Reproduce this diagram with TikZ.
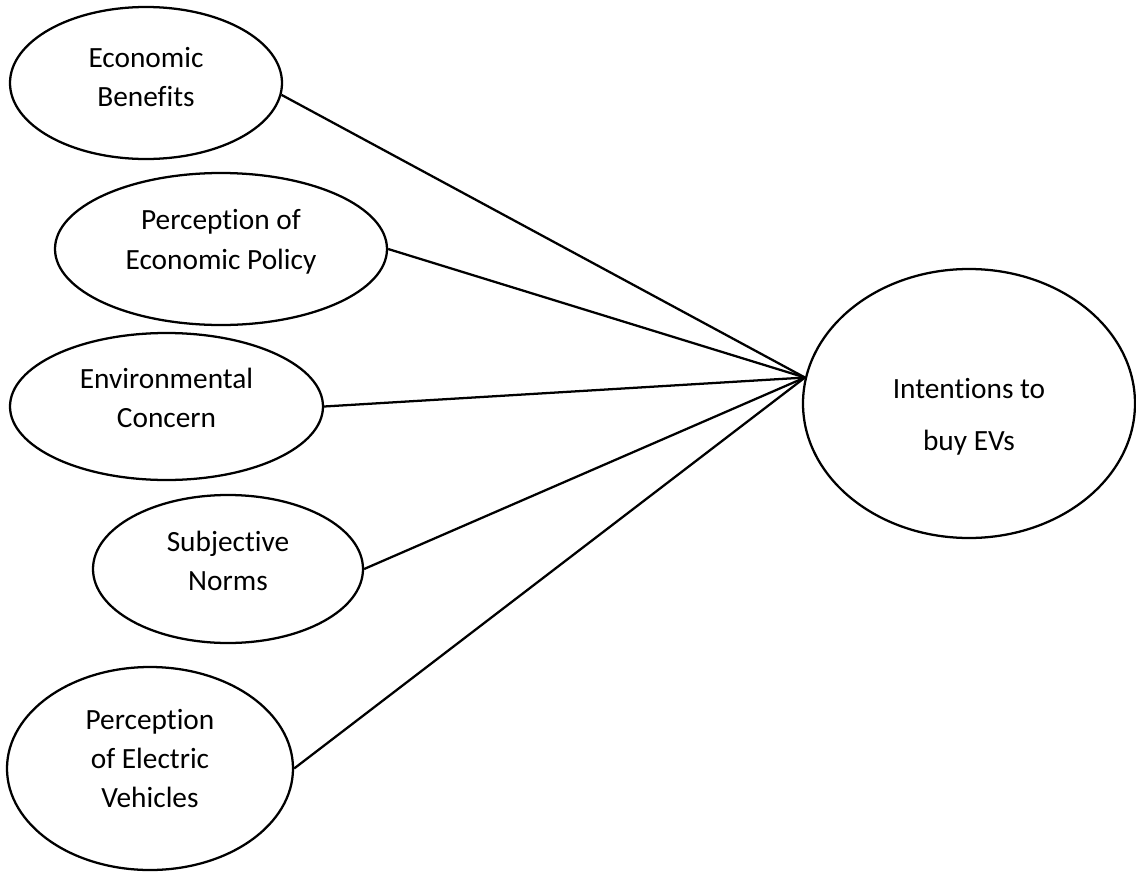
\documentclass[tikz,border=0pt]{standalone}
\usepackage{fontspec}
\setmainfont{Carlito}[Ligatures=NoCommon]
\usetikzlibrary{shapes.geometric}

\begin{document}
\begin{tikzpicture}[x=0.75pt,y=-0.75pt,
  factor/.style={ellipse,draw,line width=1.7pt,inner sep=0pt,align=center,
    font=\fontsize{22}{29.5}\selectfont},
  link/.style={line width=1.7pt}]
\useasboundingbox (0,0) rectangle (1136,882);
\draw (146,83) node[factor,minimum width=204pt,minimum height=114pt,
  text depth=9.4pt] (econBenefits) {Economic\\Benefits};
\draw (econBenefits) ++ (75,166) node[factor,minimum width=249pt,
  minimum height=114pt,text depth=14.6pt] (econPolicy)
  {Perception of\\Economic Policy};
\draw (econPolicy) ++ (-54.5,157.5) node[factor,minimum width=234.75pt,
  minimum height=110.25pt,text depth=12.8pt] (envConcern)
  {Environmental\\Concern};
\draw (envConcern) ++ (61.5,162.5) node[factor,minimum width=202.5pt,
  minimum height=111pt,text depth=12pt] (subjNorms) {Subjective\\Norms};
\draw (subjNorms) ++ (-78,199.5) node[factor,minimum width=214.5pt,
  minimum height=152.25pt,text depth=15.3pt] (percEV)
  {Perception\\of Electric\\Vehicles};
%
\draw (969,403.5) node[factor,minimum width=249pt,minimum height=201.75pt,
  font=\fontsize{22}{39}\selectfont,text height=70pt,text depth=0pt]
  (intentions) {Intentions to\\buy EVs};
%
\path[draw,link] (econBenefits.-5) -- (intentions.171);
\path[draw,link] (econPolicy.east) -- (intentions.171);
\path[draw,link] (envConcern.east) -- (intentions.171);
\path[draw,link] (subjNorms.east) -- (intentions.171);
\path[draw,link] (percEV.east) -- (intentions.171);
\end{tikzpicture}
\end{document}
